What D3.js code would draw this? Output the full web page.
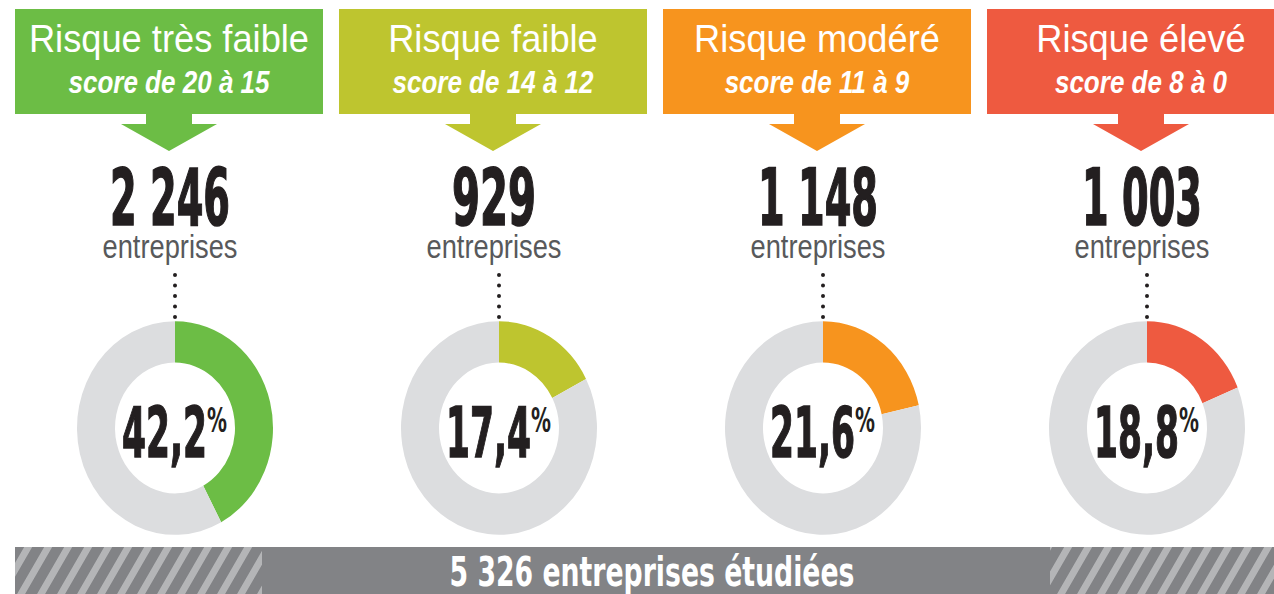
<!DOCTYPE html>
<html>
<head>
<meta charset="utf-8">
<script src="https://cdn.jsdelivr.net/npm/d3@7"></script>
<style>
  html, body { margin: 0; padding: 0; background: #fff; }
  svg { display: block; }
</style>
</head>
<body>
<svg id="chart" width="1274" height="594"></svg>
<script>
// data
const categories = ["Risque très faible", "Risque faible", "Risque modéré", "Risque élevé"];
const scoreLabels = ["score de 20 à 15", "score de 14 à 12", "score de 11 à 9", "score de 8 à 0"];
const companyCounts = [2246, 929, 1148, 1003];
const shares = [42.2, 17.4, 21.6, 18.8];
const totalCompanies = 5326;
const colors = ["#6cbd45", "#bec52f", "#f7941e", "#ee5a40"];

const W = 1274, H = 594;
const svg = d3.select("#chart");

const fr = d3.formatLocale({decimal: ",", thousands: "\u00a0", grouping: [3], currency: ["", " €"]});
const fmtInt = fr.format(",d");
const fmtPct = fr.format(".1f");

const narrow = "'Liberation Sans Narrow', 'DejaVu Sans Condensed', 'Liberation Sans', sans-serif";
const sans = "'Liberation Sans', Arial, sans-serif";

// squeeze a text horizontally around its anchor x, to a width or by a factor
function fitWidth(sel, widthFn) {
    sel.each(function(d) {
        const t = d3.select(this);
        const ax = +t.attr("x");
        const w = this.getComputedTextLength();
        const k = (typeof widthFn === "function" ? widthFn(d) : widthFn) / w;
        t.attr("transform", `translate(${ax},0) scale(${k},1) translate(${-ax},0)`);
    });
}
function squeeze(sel, k) {
    sel.each(function() {
        const t = d3.select(this), ax = +t.attr("x");
        t.attr("transform", `translate(${ax},0) scale(${k},1) translate(${-ax},0)`);
    });
}

// columns
const x = d3.scaleBand()
    .domain(categories)
    .range([15, 1295])
    .paddingInner(16 / 324);
const bw = x.bandwidth();
const mid = d => x(d.cat) + bw / 2;

const defs = svg.append("defs");
const pat = defs.append("pattern")
    .attr("id", "stripes")
    .attr("patternUnits", "userSpaceOnUse")
    .attr("width", 20).attr("height", 20)
    .attr("patternTransform", "skewX(-30)");
pat.append("rect").attr("width", 20).attr("height", 20).attr("fill", "#828386");
pat.append("rect").attr("width", 8).attr("height", 20).attr("fill", "#b4b5b7");

const cols = svg.selectAll("g.col")
    .data(categories.map((c, i) => ({
        cat: c, score: scoreLabels[i], count: companyCounts[i], share: shares[i], color: colors[i]
    })))
    .join("g")
    .attr("class", "col");

// header boxes
cols.append("rect")
    .attr("x", d => x(d.cat))
    .attr("y", 9)
    .attr("width", bw)
    .attr("height", 105)
    .attr("fill", d => d.color);

// arrow under the box
cols.append("path")
    .attr("fill", d => d.color)
    .attr("d", d => {
        const c = mid(d);
        return `M${c - 23},113 L${c + 23},113 L${c + 23},124 L${c + 48},124 L${c},151 L${c - 48},124 L${c - 23},124 Z`;
    });

cols.append("text")
    .attr("x", mid)
    .attr("y", 52)
    .attr("text-anchor", "middle")
    .attr("fill", "#fff")
    .attr("font-family", sans)
    .attr("font-size", 39)
    .text(d => d.cat)
    .call(squeeze, 0.93);

cols.append("text")
    .attr("x", mid)
    .attr("y", 93)
    .attr("text-anchor", "middle")
    .attr("fill", "#fff")
    .attr("font-family", sans)
    .attr("font-weight", "bold")
    .attr("font-style", "italic")
    .attr("font-size", 31)
    .text(d => d.score)
    .call(squeeze, 0.84);

// company counts
cols.append("text")
    .attr("x", d => mid(d) + 1)
    .attr("y", 225)
    .attr("text-anchor", "middle")
    .attr("fill", "#231f20")
    .attr("stroke", "#231f20")
    .attr("stroke-width", 1.6)
    .attr("font-family", narrow)
    .attr("font-weight", "bold")
    .attr("font-size", 78)
    .text(d => fmtInt(d.count))
    .call(fitWidth, d => {
        const s = fmtInt(d.count), n = s.replace(/\D/g, "").length;
        return n * 28 + (s.length - n) * 8;
    });

cols.append("text")
    .attr("x", d => mid(d) + 1)
    .attr("y", 258)
    .attr("text-anchor", "middle")
    .attr("fill", "#58595b")
    .attr("font-family", sans)
    .attr("font-size", 34)
    .text("entreprises")
    .call(fitWidth, 135);

// dotted connector
const donutX = d => mid(d) + 6;
const cy = 428;
cols.append("line")
    .attr("x1", donutX).attr("x2", donutX)
    .attr("y1", 275).attr("y2", 318)
    .attr("stroke", "#231f20")
    .attr("stroke-width", 4)
    .attr("stroke-linecap", "round")
    .attr("stroke-dasharray", "0 10.5");

// donuts
const pie = d3.pie().sort(null).value(v => v);
const arc = d3.arc().innerRadius(60).outerRadius(98);

const donut = cols.append("g")
    .attr("transform", d => `translate(${donutX(d)},${cy}) scale(1,1.09)`);

donut.selectAll("path")
    .data(d => pie([d.share, 100 - d.share]).map((a, i) => ({arc: a, fill: i === 0 ? d.color : "#dcdddf"})))
    .join("path")
    .attr("d", d => arc(d.arc))
    .attr("fill", d => d.fill);

cols.append("text")
    .attr("x", d => donutX(d) + 32)
    .attr("y", 457)
    .attr("text-anchor", "end")
    .attr("fill", "#231f20")
    .attr("stroke", "#231f20")
    .attr("stroke-width", 1.4)
    .attr("font-family", narrow)
    .attr("font-weight", "bold")
    .attr("font-size", 70)
    .text(d => fmtPct(d.share))
    .call(fitWidth, 85);

cols.append("text")
    .attr("x", d => donutX(d) + 32)
    .attr("y", 432)
    .attr("fill", "#231f20")
    .attr("font-family", narrow)
    .attr("font-weight", "bold")
    .attr("font-size", 34)
    .text("%")
    .call(fitWidth, 20);

// bottom banner
svg.append("rect")
    .attr("x", 15).attr("y", 547)
    .attr("width", W - 15).attr("height", H - 547)
    .attr("fill", "#828386");
svg.append("rect")
    .attr("x", 15).attr("y", 547)
    .attr("width", 247).attr("height", H - 547)
    .attr("fill", "url(#stripes)");
svg.append("rect")
    .attr("x", 1050).attr("y", 547)
    .attr("width", W - 1050).attr("height", H - 547)
    .attr("fill", "url(#stripes)");

svg.append("text")
    .attr("x", 652)
    .attr("y", 586)
    .attr("text-anchor", "middle")
    .attr("fill", "#fff")
    .attr("font-family", narrow)
    .attr("font-weight", "bold")
    .attr("font-size", 40)
    .text(fmtInt(totalCompanies) + " entreprises étudiées")
    .call(fitWidth, 405);
</script>
</body>
</html>
